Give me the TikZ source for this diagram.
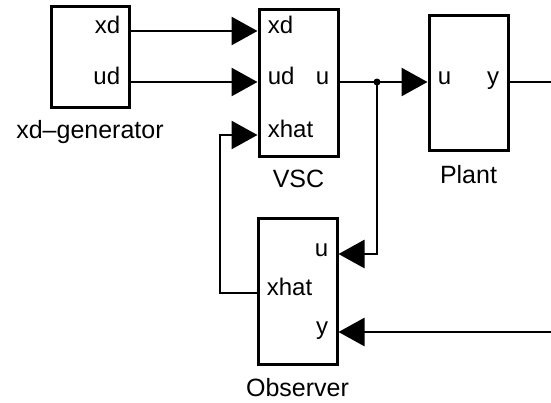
\documentclass[tikz,border=0pt]{standalone}
\usepackage{fontspec}
\setmainfont{Liberation Sans}
\usetikzlibrary{arrows.meta,positioning}

\begin{document}
\begin{tikzpicture}[x=1pt,y=-1pt,line width=2.7pt,
  blk/.style n args={2}{draw,line width=3pt,minimum width=#1pt,minimum height=#2pt,inner sep=0pt},
  sig/.style={-{Triangle[length=26pt,width=28pt]}},
  prt/.style={font=\fontsize{24}{28}\selectfont,inner sep=9pt},
  ttl/.style={font=\fontsize{25}{30}\selectfont,inner sep=2pt}]
\useasboundingbox (0,0) rectangle (551,402);
\node[blk={78}{101}] (gen) at (90,56.5) {};
\node[blk={79}{147}] (vsc) at (298.5,82.5) {};
\node[blk={79}{135}] (plant) at (468.5,82.5) {};
\node[blk={79}{146}] (obs) at (297.5,291) {};
\node[ttl,below=9pt of gen] (gen-ttl) {xd--generator};
\node[ttl,below=9pt of vsc] (vsc-ttl) {VSC};
\node[ttl,below=11pt of plant] (plant-ttl) {Plant};
\node[ttl,below=10pt of obs] (obs-ttl) {Observer};
% ports
\foreach \b/\s/\o/\y/\n in %
{gen/east/east/31/xd,gen/east/east/82/ud,vsc/west/west/31/xd,vsc/west/west/82/ud,%
 vsc/west/west/135/xhat,vsc/east/east/82/u,plant/west/west/82/u,plant/east/east/82/y,%
 obs/east/east/254/u,obs/west/west/293/xhat,obs/east/east/332/y} {
   \coordinate (\b-\n) at (\b.\s |- 0,\y);
   \node[prt,anchor=mid \o] (\b-\n-txt) at (\b-\n) {\n};
}
\coordinate (tap) at (377,82);
\coordinate (back) at (220,0);
\coordinate (out) at (566,0);
\draw[sig] (gen-xd) -- (vsc-xd);
\draw[sig] (gen-ud) -- (vsc-ud);
\draw[sig] (vsc-u) -- (plant-u);
\fill (tap) circle (3.5pt);
\draw[sig] (tap) |- (obs-u);
\draw[sig] (obs-xhat) -- (obs-xhat -| back) |- (vsc-xhat);
\draw[sig] (plant-y) -- (plant-y -| out) |- (obs-y);
\end{tikzpicture}
\end{document}
